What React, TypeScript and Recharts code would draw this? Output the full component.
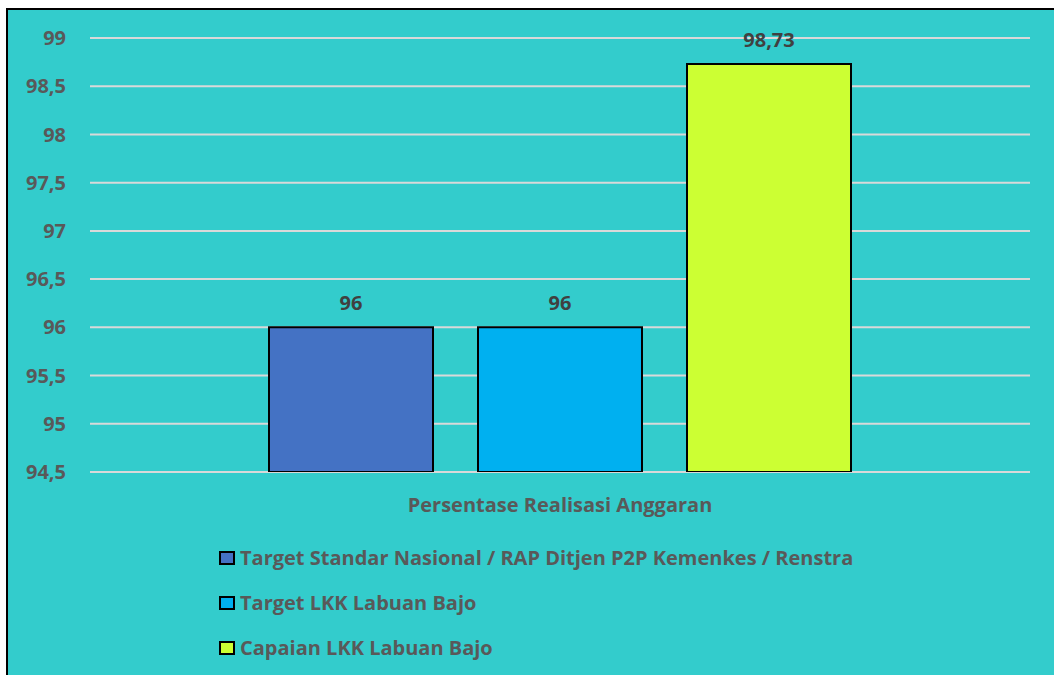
import React from 'react';
import { BarChart, Bar, XAxis, YAxis, CartesianGrid, LabelList, Legend } from 'recharts';

const categories = ['Persentase Realisasi Anggaran'];
const seriesNames = [
  'Target Standar Nasional / RAP Ditjen P2P Kemenkes / Renstra',
  'Target LKK Labuan Bajo',
  'Capaian LKK Labuan Bajo',
];
const seriesValues = [96, 96, 98.73];
const seriesColors = ['#4472C4', '#00B0F0', '#CCFF33'];
const yTicks = [94.5, 95, 95.5, 96, 96.5, 97, 97.5, 98, 98.5, 99];

const data = categories.map((c) => {
  const row: Record<string, any> = { name: c };
  seriesNames.forEach((s, i) => {
    row['s' + i] = seriesValues[i];
  });
  return row;
});

const fmt = (v: any) => String(v).replace('.', ',');
const FONT = '"Open Sans", sans-serif';

const LegendContent = () => (
  <div style={{ fontFamily: FONT, fontWeight: 700, fontSize: 20, color: '#595959' }}>
    {seriesNames.map((s, i) => (
      <div key={s} style={{ display: 'flex', alignItems: 'center', height: 45 }}>
        <span
          style={{
            display: 'inline-block',
            width: 12,
            height: 10,
            background: seriesColors[i],
            border: '2px solid #000',
            marginRight: 5,
          }}
        />
        <span>{s}</span>
      </div>
    ))}
  </div>
);

export default function App() {
  return (
    <div
      style={{
        position: 'fixed',
        left: 6,
        top: 8,
        width: 1048,
        height: 667,
        background: '#33CCCC',
        borderTop: '2px solid #000',
        borderLeft: '2px solid #000',
        overflow: 'hidden',
      }}
    >
      <BarChart
        width={1046}
        height={665}
        data={data}
        margin={{ top: 28, right: 24, bottom: 173, left: 0 }}
        barSize={164}
        barGap={45}
      >
        <CartesianGrid horizontal vertical={false} stroke="#D9D9D9" strokeWidth={2} />
        <XAxis
          dataKey="name"
          axisLine={false}
          tickLine={false}
          tickSize={0}
          tickMargin={26}
          height={30}
          tick={{ fill: '#595959', fontSize: 20, fontWeight: 700, fontFamily: FONT }}
        />
        <YAxis
          domain={[94.5, 99]}
          ticks={yTicks}
          interval={0}
          allowDataOverflow
          axisLine={false}
          tickLine={false}
          tickSize={0}
          tickMargin={24}
          width={82}
          tickFormatter={fmt}
          tick={{ fill: '#595959', fontSize: 20, fontWeight: 700, fontFamily: FONT }}
        />
        <Legend
          layout="horizontal"
          verticalAlign="middle"
          align="center"
          content={() => <LegendContent />}
          wrapperStyle={{ position: 'absolute', left: 211, top: 525, width: 'auto', height: 'auto' }}
        />
        {seriesNames.map((s, i) => (
          <Bar
            key={s}
            dataKey={'s' + i}
            name={s}
            fill={seriesColors[i]}
            stroke="#000"
            strokeWidth={2}
            isAnimationActive={false}
          >
            <LabelList
              dataKey={'s' + i}
              position="top"
              offset={17}
              formatter={fmt}
              fill="#404040"
              style={{ fontSize: 20, fontWeight: 700, fontFamily: FONT }}
            />
          </Bar>
        ))}
      </BarChart>
    </div>
  );
}
